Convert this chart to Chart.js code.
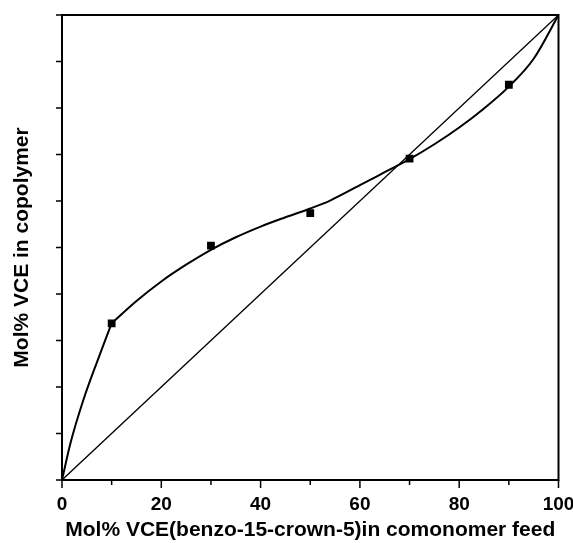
<!DOCTYPE html>
<html>
<head>
<meta charset="utf-8">
<script src="https://cdn.jsdelivr.net/npm/chart.js@4/dist/chart.umd.min.js"></script>
<style>
  html, body { margin: 0; padding: 0; background: #fff; }
  #wrap { width: 573px; height: 543px; }
</style>
</head>
<body>
<div id="wrap"><canvas id="chart" width="573" height="543"></canvas></div>
<script>
// measured points
const feedX = [10, 30, 50, 70, 90];
const copolyY = [33.7, 50.4, 57.4, 69.1, 85.0];

// fitted curve (two pieces, it bends sharply at x=10)
const lowX = [0, 1.7, 4.3, 7.2, 10];
const lowY = [0, 7.9, 17.2, 25.8, 33.7];
const highX = [10, 15, 20, 25, 30, 35, 40, 45, 50, 54, 60, 65, 70, 75, 80, 85, 90, 95, 100];
const highY = [33.7, 38.5, 42.7, 46.3, 49.5, 52.2, 54.5, 56.5, 58.4, 60.1, 63.4, 66.2, 69.0, 72.2, 75.8, 79.9, 84.6, 90.6, 100];

// ideal diagonal
const diagX = [0, 100];
const diagY = [0, 100];

const xTickLabels = [0, 20, 40, 60, 80, 100];
const tickSteps = [0, 10, 20, 30, 40, 50, 60, 70, 80, 90, 100];

const toPoints = (xs, ys) => xs.map((x, i) => ({ x, y: ys[i] }));

const FONT = '"Liberation Sans", Arial, sans-serif';

const curveStyle = {
  showLine: true,
  pointRadius: 0,
  borderColor: '#000',
  borderWidth: 2,
  cubicInterpolationMode: 'monotone',
  order: 1,
};

// frame + outward tick marks
const framePlugin = {
  id: 'frame',
  afterDraw(chart) {
    const { ctx, chartArea: a, scales } = chart;
    ctx.save();
    ctx.strokeStyle = '#000';
    ctx.lineWidth = 2;
    ctx.strokeRect(a.left, a.top, a.right - a.left, a.bottom - a.top);
    ctx.lineWidth = 1.5;
    ctx.beginPath();
    tickSteps.forEach((v) => {
      const px = scales.x.getPixelForValue(v);
      const len = xTickLabels.includes(v) ? 8 : 5;
      ctx.moveTo(px, a.bottom);
      ctx.lineTo(px, a.bottom + len);
      const py = scales.y.getPixelForValue(v);
      ctx.moveTo(a.left, py);
      ctx.lineTo(a.left - 6, py);
    });
    ctx.stroke();
    ctx.restore();
  },
};

new Chart(document.getElementById('chart'), {
  type: 'scatter',
  data: {
    datasets: [
      {
        label: 'measured',
        data: toPoints(feedX, copolyY),
        pointStyle: 'rect',
        pointRadius: 5.5,
        backgroundColor: '#000',
        borderColor: '#000',
        borderWidth: 0,
        showLine: false,
        order: 0,
      },
      { label: 'fit low', data: toPoints(lowX, lowY), ...curveStyle },
      { label: 'fit high', data: toPoints(highX, highY), ...curveStyle },
      {
        label: 'ideal',
        data: toPoints(diagX, diagY),
        showLine: true,
        pointRadius: 0,
        borderColor: '#000',
        borderWidth: 1.3,
        order: 2,
      },
    ],
  },
  options: {
    responsive: false,
    animation: false,
    events: [],
    layout: { padding: { top: 15, right: 14.5, left: 0, bottom: 0 } },
    plugins: { legend: { display: false }, tooltip: { enabled: false } },
    scales: {
      x: {
        type: 'linear',
        min: 0,
        max: 100,
        afterFit: (scale) => {
          scale.height = 63;
          scale.paddingLeft = 0;
          scale.paddingRight = 0;
        },
        grid: { display: false, drawTicks: false },
        border: { display: false },
        ticks: {
          stepSize: 20,
          padding: 13,
          color: '#000',
          font: { family: FONT, size: 19, weight: 'bold' },
          maxRotation: 0,
        },
        title: {
          display: true,
          text: 'Mol% VCE(benzo-15-crown-5)in comonomer feed',
          color: '#000',
          font: { family: FONT, size: 21, weight: 'bold' },
          padding: { top: 0, bottom: 0 },
        },
      },
      y: {
        type: 'linear',
        min: 0,
        max: 100,
        afterFit: (scale) => { scale.width = 62; },
        grid: { display: false, drawTicks: false },
        border: { display: false },
        ticks: { display: false, stepSize: 10 },
        title: {
          display: true,
          text: 'Mol% VCE in copolymer',
          color: '#000',
          font: { family: FONT, size: 21, weight: 'bold' },
          padding: { top: 10, bottom: 0 },
        },
      },
    },
  },
  plugins: [framePlugin],
});
</script>
</body>
</html>
